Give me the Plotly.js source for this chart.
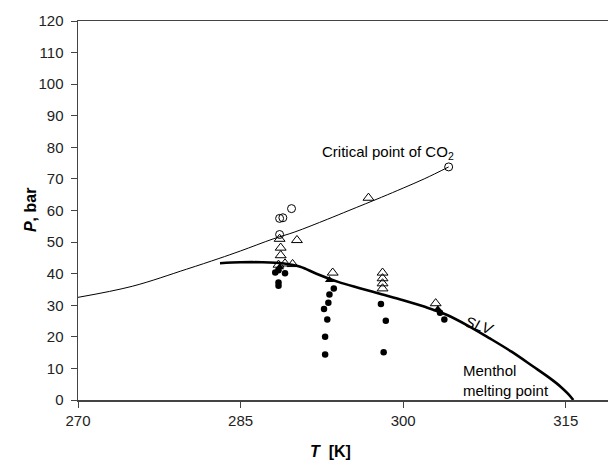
<!DOCTYPE html>
<html>
<head>
<meta charset="utf-8">
<script src="https://cdn.plot.ly/plotly-3.0.1.min.js"></script>
<style>html,body{margin:0;padding:0;background:#fff;}#chart{width:608px;height:461px;}</style>
</head>
<body>
<div id="chart"></div>
<script>
// CO2 vapour-pressure curve
const co2T = [270, 275, 280, 283, 285, 288, 290, 293, 295, 298, 300, 302, 304.2];
const co2P = [32.5, 36.0, 41.4, 44.8, 47.2, 51.0, 53.2, 57.2, 60.0, 64.2, 67.1, 70.1, 73.8];
// SLV line
const slvT = [283.1, 285, 287, 289, 290.5, 292, 294, 296, 298, 300, 302, 304, 306, 308, 310, 312, 313.5, 314.5, 315.2, 315.7];
const slvP = [43.3, 43.6, 43.6, 43.2, 42.2, 40.0, 37.4, 35.4, 33.5, 31.6, 29.5, 27.0, 23.5, 19.5, 15.3, 10.6, 7.0, 4.3, 2.0, 0];
// open circles
const ocT = [289.7, 288.6, 288.9, 288.6, 304.2];
const ocP = [60.6, 57.5, 57.7, 52.4, 73.8];
// open triangles
const otT = [288.6, 290.2, 288.7, 288.7, 288.5, 289.1, 289.8, 293.5, 296.8, 298.1, 298.1, 298.1, 298.1, 303.0];
const otP = [51.0, 50.6, 48.2, 45.8, 42.8, 43.2, 43.0, 40.3, 64.0, 40.3, 38.5, 36.9, 35.3, 30.6];
// filled circles
const fcT = [288.2, 288.5, 289.1, 288.5, 288.5, 293.6, 293.2, 293.1, 292.7, 293.0, 292.8, 292.8, 297.95, 298.4, 298.2, 303.4, 303.8];
const fcP = [40.4, 41.1, 40.1, 37.2, 36.2, 35.3, 33.4, 30.8, 28.8, 25.5, 20.0, 14.4, 30.4, 25.1, 15.1, 27.6, 25.5];
// filled triangles
const ftT = [288.6, 293.2, 303.2];
const ftP = [42.0, 38.0, 28.7];
// ticks
const xTicks = [270, 285, 300, 315];
const yTicks = [0, 10, 20, 30, 40, 50, 60, 70, 80, 90, 100, 110, 120];

const FONT = 'Liberation Sans, Arial, sans-serif';

const traces = [
  {x: co2T, y: co2P, mode: 'lines', line: {color: '#000', width: 1, shape: 'spline'}, hoverinfo: 'skip'},
  {x: slvT, y: slvP, mode: 'lines', line: {color: '#000', width: 2.6, shape: 'spline'}, hoverinfo: 'skip'},
  {x: ocT, y: ocP, mode: 'markers', marker: {symbol: 'circle-open', size: 8, color: '#000', line: {width: 1}}},
  {x: otT, y: otP, mode: 'markers', marker: {symbol: 'triangle-up-open', size: 9.5, color: '#000', line: {width: 1}}},
  {x: ftT, y: ftP, mode: 'markers', marker: {symbol: 'triangle-up', size: 8, color: '#000'}},
  {x: fcT, y: fcP, mode: 'markers', marker: {symbol: 'circle', size: 6.5, color: '#000'}}
];

const layout = {
  width: 608, height: 461,
  margin: {l: 78, r: 0, t: 21, b: 61, pad: 0},
  paper_bgcolor: '#fff', plot_bgcolor: '#fff',
  showlegend: false,
  font: {family: FONT, size: 15, color: '#222'},
  xaxis: {
    range: [270, 318.9], tickvals: xTicks, ticktext: xTicks.map(String),
    showgrid: false, zeroline: false, showline: true, mirror: true,
    linecolor: '#444', linewidth: 1.5, ticks: 'outside', ticklen: 6, tickcolor: '#444',
    tickfont: {family: FONT, size: 15, color: '#222'}
  },
  yaxis: {
    range: [0, 120], tickvals: yTicks, ticktext: yTicks.map(String),
    showgrid: false, zeroline: false, showline: true,
    linecolor: '#444', linewidth: 1.5, ticks: 'outside', ticklen: 6, tickcolor: '#444',
    ticklabelstandoff: 4,
    tickfont: {family: FONT, size: 15, color: '#222'}
  },
  annotations: [
    {x: 304.9, y: 78.3, xref: 'x', yref: 'y', xanchor: 'right', yanchor: 'middle', showarrow: false,
     text: 'Critical point of CO<sub>2</sub>', font: {family: FONT, size: 15, color: '#000'}},
    {x: 307.1, y: 23.6, xref: 'x', yref: 'y', xanchor: 'center', yanchor: 'middle', showarrow: false,
     text: '<i>SLV</i>', textangle: 18, font: {family: FONT, size: 15, color: '#000'}},
    {x: 305.3, y: 6.3, xref: 'x', yref: 'y', xanchor: 'left', yanchor: 'middle', showarrow: false, align: 'left',
     text: 'Menthol<br>melting point', font: {family: FONT, size: 15, color: '#000'}},
    {x: -0.0906, y: 0.501, xref: 'paper', yref: 'paper', xanchor: 'center', yanchor: 'middle', showarrow: false,
     text: '<b><i>P</i>, bar</b>', textangle: -90, font: {family: FONT, size: 16, color: '#000'}},
    {x: 0.477, y: -0.137, xref: 'paper', yref: 'paper', xanchor: 'center', yanchor: 'middle', showarrow: false,
     text: '<b><i>T</i>  [K]</b>', font: {family: FONT, size: 16, color: '#000'}}
  ]
};

Plotly.newPlot('chart', traces, layout, {displayModeBar: false, staticPlot: true});
</script>
</body>
</html>
